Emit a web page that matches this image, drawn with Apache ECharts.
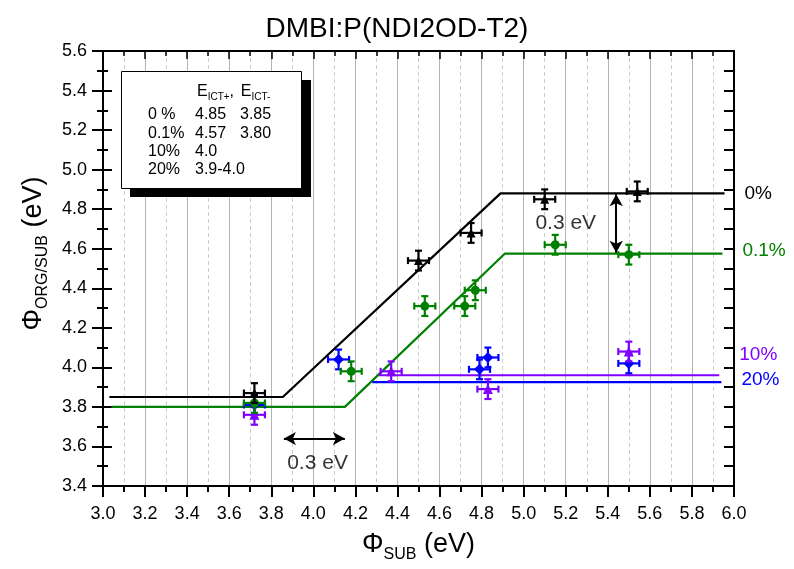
<!DOCTYPE html>
<html>
<head>
<meta charset="utf-8">
<script src="https://cdn.jsdelivr.net/npm/echarts@6/dist/echarts.min.js"></script>
<style>html,body{margin:0;padding:0;background:#fff;}#c{width:794px;height:569px;}</style>
</head>
<body>
<div id="c"></div>
<script>
// ---- data ----
const blackX = [3.72, 4.50, 4.75, 5.10, 5.54];
const blackY = [3.87, 4.54, 4.68, 4.85, 4.89];
const greenX = [3.72, 4.18, 4.53, 4.72, 4.77, 5.15, 5.50];
const greenY = [3.82, 3.98, 4.31, 4.31, 4.39, 4.62, 4.57];
const blueX = [3.72, 4.12, 4.79, 4.83, 5.50];
const blueY = [3.81, 4.04, 3.99, 4.05, 4.02];
const purpleX = [3.72, 4.37, 4.83, 5.50];
const purpleY = [3.76, 3.98, 3.89, 4.08];
const xErr = 0.05;
const yErr = 0.05;

const blackFitX = [3.03, 3.855, 4.89, 5.955];
const blackFitY = [3.85, 3.85, 4.88, 4.88];
const greenFitX = [3.04, 4.15, 4.91, 5.945];
const greenFitY = [3.80, 3.80, 4.575, 4.575];
const purpleFitX = [4.31, 5.93];
const purpleFitY = [3.96, 3.96];
const blueFitX = [4.28, 5.94];
const blueFitY = [3.925, 3.925];

const seriesNames = ['0%', '0.1%', '10%', '20%'];
const arrowV = {x: 5.44, y1: 4.875, y2: 4.58};
const arrowH = {y: 3.64, x1: 3.86, x2: 4.15};
const annot = [{x: 5.20, y: 4.73, text: '0.3 eV'}, {x: 4.02, y: 3.517, text: '0.3 eV'}];

const tableHeader = ['E', 'ICT+', ',', 'E', 'ICT-'];
const tableRows = [
  ['0 %', '4.85', '3.85'],
  ['0.1%', '4.57', '3.80'],
  ['10%', '4.0', ''],
  ['20%', '3.9-4.0', '']
];

const xTicks = {min: 3.0, max: 6.0, interval: 0.2};
const yTicks = {min: 3.4, max: 5.6, interval: 0.2};

// ---- build ----
const FONT = 'Liberation Sans, Arial, sans-serif';
const colors = {black: '#000000', green: '#008000', blue: '#0000ff', purple: '#8000ff'};

function zipPts(xs, ys) { return xs.map((x, i) => [x, ys[i]]); }
function errData(xs, ys) { return xs.map((x, i) => [x, ys[i], xErr, yErr]); }

function errSeries(xs, ys, color, z) {
  return {
    type: 'custom', z: z,
    data: errData(xs, ys),
    renderItem: function (params, api) {
      const x = api.value(0), y = api.value(1), ex = api.value(2), ey = api.value(3);
      const l = api.coord([x - ex, y]), r = api.coord([x + ex, y]);
      const t = api.coord([x, y + ey]), b = api.coord([x, y - ey]);
      const cap = 3.5;
      const st = {stroke: color, lineWidth: 2.2};
      return {
        type: 'group',
        children: [
          {type: 'line', shape: {x1: l[0], y1: l[1], x2: r[0], y2: r[1]}, style: st},
          {type: 'line', shape: {x1: t[0], y1: t[1], x2: b[0], y2: b[1]}, style: st},
          {type: 'line', shape: {x1: l[0], y1: l[1] - cap, x2: l[0], y2: l[1] + cap}, style: st},
          {type: 'line', shape: {x1: r[0], y1: r[1] - cap, x2: r[0], y2: r[1] + cap}, style: st},
          {type: 'line', shape: {x1: t[0] - cap, y1: t[1], x2: t[0] + cap, y2: t[1]}, style: st},
          {type: 'line', shape: {x1: b[0] - cap, y1: b[1], x2: b[0] + cap, y2: b[1]}, style: st}
        ]
      };
    }
  };
}
function markerSeries(xs, ys, color, symbol, size, z) {
  return {type: 'scatter', z: z, data: zipPts(xs, ys), symbol: symbol, symbolSize: size,
    itemStyle: {color: color, opacity: 1}, silent: true};
}
function fitSeries(xs, ys, color, name, dy) {
  return {
    type: 'line', name: name, z: 2, data: zipPts(xs, ys), showSymbol: false, symbol: 'none',
    lineStyle: {color: color, width: 2.2}, silent: true, animation: false,
    endLabel: {show: true, formatter: name, color: color, fontSize: 19, fontFamily: FONT,
      distance: 20, offset: [0, dy]}
  };
}

const option = {
  animation: false,
  title: {text: 'DMBI:P(NDI2OD-T2)', left: 'center', top: 10,
    textStyle: {fontFamily: FONT, fontSize: 28, fontWeight: 'normal', color: '#000'}},
  grid: {left: 103, right: 60, top: 51, bottom: 83},
  xAxis: [
    {type: 'value', position: 'bottom', min: xTicks.min, max: xTicks.max, interval: xTicks.interval,
      axisLine: {show: true, lineStyle: {color: '#000', width: 2}},
      axisTick: {show: true, inside: false, length: 11, lineStyle: {color: '#000', width: 2}},
      minorTick: {show: true, splitNumber: 2, length: 6, lineStyle: {color: '#000', width: 2}},
      splitLine: {show: true, lineStyle: {color: '#b4b4b4', width: 1}},
      minorSplitLine: {show: true, lineStyle: {color: '#cccccc', width: 1, type: [4, 3]}},
      axisLabel: {color: '#000', fontSize: 18, fontFamily: FONT, margin: 19,
        formatter: v => v.toFixed(1)},
      name: '{a|Φ}{s|SUB}{a| (eV)}', nameLocation: 'middle', nameGap: 41,
      nameTextStyle: {rich: {
        a: {fontSize: 27, fontFamily: FONT, color: '#000', lineHeight: 36},
        s: {fontSize: 16, fontFamily: FONT, color: '#000', lineHeight: 16, verticalAlign: 'bottom'}}}
    },
    {type: 'value', position: 'top', min: xTicks.min, max: xTicks.max, interval: xTicks.interval,
      axisLine: {show: true, onZero: false, lineStyle: {color: '#000', width: 2}},
      axisTick: {show: true, inside: true, length: 8, lineStyle: {color: '#000', width: 1.5}},
      minorTick: {show: true, splitNumber: 2, length: 5, lineStyle: {color: '#000', width: 1.5}},
      splitLine: {show: false}, axisLabel: {show: false}}
  ],
  yAxis: [
    {type: 'value', position: 'left', min: yTicks.min, max: yTicks.max, interval: yTicks.interval,
      axisLine: {show: true, onZero: false, lineStyle: {color: '#000', width: 2}},
      axisTick: {show: true, inside: false, length: 11, lineStyle: {color: '#000', width: 2}},
      minorTick: {show: true, splitNumber: 2, length: 6, lineStyle: {color: '#000', width: 2}},
      splitLine: {show: false},
      axisLabel: {color: '#000', fontSize: 18, fontFamily: FONT, margin: 16,
        formatter: v => v.toFixed(1)},
      name: '{a|Φ}{s|ORG/SUB}{a| (eV)}', nameLocation: 'middle', nameGap: 48, nameRotate: 90,
      nameTextStyle: {padding: [0, 0, 0, 30], rich: {
        a: {fontSize: 27, fontFamily: FONT, color: '#000', lineHeight: 36},
        s: {fontSize: 16, fontFamily: FONT, color: '#000', lineHeight: 16, verticalAlign: 'bottom'}}}
    },
    {type: 'value', position: 'left', min: yTicks.min, max: yTicks.max, interval: yTicks.interval,
      axisLine: {show: false},
      axisTick: {show: true, inside: true, length: 9, lineStyle: {color: '#000', width: 2}},
      minorTick: {show: true, splitNumber: 2, length: 5, lineStyle: {color: '#000', width: 2}},
      splitLine: {show: false}, axisLabel: {show: false}},
    {type: 'value', position: 'right', min: yTicks.min, max: yTicks.max, interval: yTicks.interval,
      axisLine: {show: true, onZero: false, lineStyle: {color: '#000', width: 2}},
      axisTick: {show: true, inside: true, length: 10, lineStyle: {color: '#000', width: 2}},
      minorTick: {show: true, splitNumber: 2, length: 10, lineStyle: {color: '#000', width: 2}},
      splitLine: {show: false}, axisLabel: {show: false}}
  ],
  series: [
    fitSeries(blackFitX, blackFitY, colors.black, seriesNames[0], 0),
    fitSeries(greenFitX, greenFitY, colors.green, seriesNames[1], -3),
    fitSeries(purpleFitX, purpleFitY, colors.purple, seriesNames[2], -21),
    fitSeries(blueFitX, blueFitY, colors.blue, seriesNames[3], -2),
    errSeries(blueX, blueY, colors.blue, 3),
    markerSeries(blueX, blueY, colors.blue, 'diamond', 11, 4),
    errSeries(purpleX, purpleY, colors.purple, 5),
    markerSeries(purpleX, purpleY, colors.purple, 'triangle', 10, 6),
    errSeries(greenX, greenY, colors.green, 7),
    markerSeries(greenX, greenY, colors.green, 'circle', 9, 8),
    errSeries(blackX, blackY, colors.black, 9),
    markerSeries(blackX, blackY, colors.black, 'triangle', 9, 10),
    {
      type: 'line', data: [], silent: true,
      markLine: {
        silent: true, symbol: ['arrow', 'arrow'], symbolSize: [10, 12], label: {show: false},
        lineStyle: {color: '#000', width: 2, type: 'solid'}, animation: false,
        data: [
          [{coord: [arrowV.x, arrowV.y1]}, {coord: [arrowV.x, arrowV.y2]}],
          [{coord: [arrowH.x1, arrowH.y]}, {coord: [arrowH.x2, arrowH.y]}]
        ]
      }
    },
    {
      type: 'scatter', symbolSize: 0, silent: true, z: 11,
      data: annot.map(a => ({value: [a.x, a.y], label: {formatter: a.text}})),
      label: {show: true, position: 'inside', color: '#000', fontSize: 21, fontFamily: FONT}
    }
  ],
  graphic: [
    {type: 'rect', shape: {x: 130, y: 80, width: 181, height: 117}, style: {fill: '#000'}, z: 10},
    {type: 'rect', shape: {x: 121.5, y: 71.5, width: 180, height: 117}, style: {fill: '#fff', stroke: '#000', lineWidth: 1}, z: 11},
    {type: 'text', x: 197, y: 92, z: 12, style: {
      text: '{e|' + tableHeader[0] + '}{s|' + tableHeader[1] + '}{e|' + tableHeader[2] + '}  {e|' + tableHeader[3] + '}{s|' + tableHeader[4] + '}',
      verticalAlign: 'middle',
      rich: {e: {fontSize: 16, fontFamily: FONT, fill: '#000', lineHeight: 20},
        s: {fontSize: 10, fontFamily: FONT, fill: '#000', lineHeight: 10, verticalAlign: 'bottom'}}}}
  ].concat(tableRows.flatMap((row, i) => {
    const y = 115 + i * 18.3;
    const xs = [148, 195, 240];
    return row.map((t, j) => ({type: 'text', x: xs[j], y: y, z: 12,
      style: {text: t, fontSize: 16, fontFamily: FONT, fill: '#000', verticalAlign: 'middle'}}));
  }))
};

const chart = echarts.init(document.getElementById('c'), null, {renderer: 'canvas'});
chart.setOption(option);
</script>
</body>
</html>
